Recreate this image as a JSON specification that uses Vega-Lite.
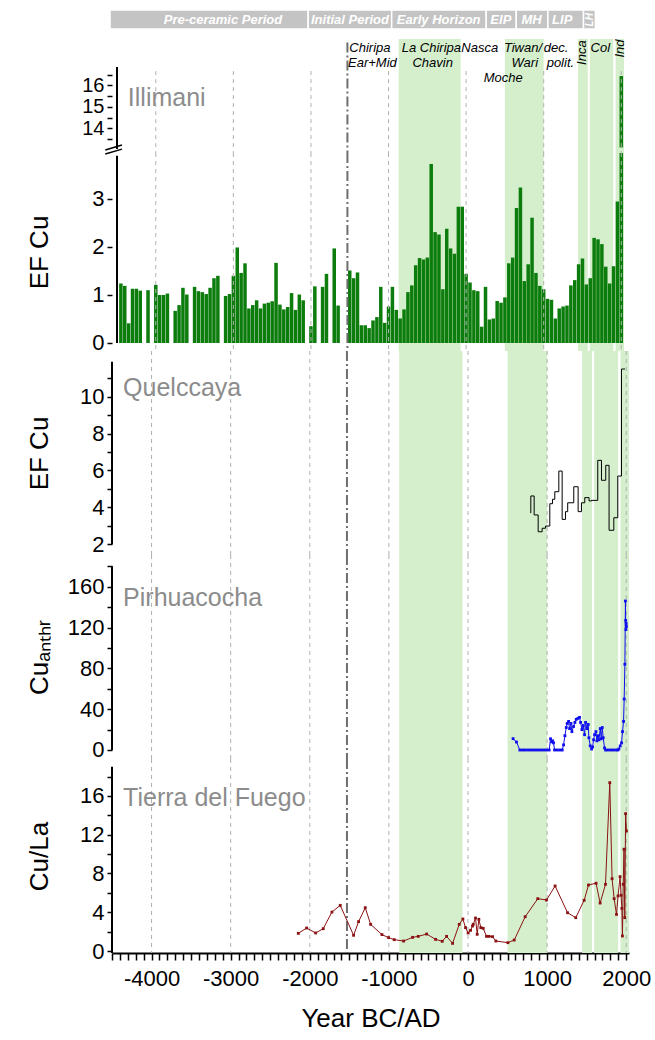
{
  "$schema": "https://vega.github.io/schema/vega-lite/v6.json",
  "background": "white",
  "padding": {"left": 26, "top": 9, "right": 10, "bottom": 5},
  "config": {
    "font": "Liberation Sans",
    "view": {"stroke": null},
    "axis": {"labelFont": "Liberation Sans", "labelFontSize": 22, "labelColor": "#000", "titleFont": "Liberation Sans", "titleFontSize": 26, "titleFontWeight": "normal", "titleColor": "#000", "tickColor": "#000", "tickWidth": 1.5, "tickSize": 5, "tickCount": 200, "domainColor": "#000", "domainWidth": 2, "grid": false, "labelFlush": false, "labelOverlap": false, "labelPadding": 3}
  },
  "datasets": {
    "bands": [{"year": -870, "year_end": -70}, {"year": 500, "year_end": 1000}, {"year": 1442, "year_end": 1568}, {"year": 1594, "year_end": 1897}, {"year": 1927, "year_end": 2035}],
    "grid": [{"year": -4000}, {"year": -3000}, {"year": -2000}, {"year": -1000}, {"year": 0}, {"year": 1000}, {"year": 2000}],
    "periods": [
      {"period": "Pre-ceramic Period", "year": -4525, "year_end": -2020, "mid": -3097},
      {"period": "Initial Period", "year": -2020, "year_end": -965, "mid": -1492},
      {"period": "Early Horizon", "year": -965, "year_end": 230, "mid": -371},
      {"period": "EIP", "year": 230, "year_end": 610, "mid": 415},
      {"period": "MH", "year": 610, "year_end": 1010, "mid": 803},
      {"period": "LIP", "year": 1010, "year_end": 1460, "mid": 1191},
      {"period": "LH", "year": 1460, "year_end": 1610, "mid": 1536}
    ],
    "cultures": [
      {"label": "Chiripa", "year": -1240, "value": 17.76},
      {"label": "Ear+Mid", "year": -1208, "value": 17.06},
      {"label": "La Chiripa", "year": -448, "value": 17.76},
      {"label": "Chavin", "year": -431, "value": 17.06},
      {"label": "Nasca", "year": 175, "value": 17.76},
      {"label": "Tiwan/", "year": 733, "value": 17.76},
      {"label": "Wari", "year": 756, "value": 17.06},
      {"label": "Moche", "year": 478, "value": 16.36},
      {"label": "dec.", "year": 1160, "value": 17.76},
      {"label": "polit.", "year": 1215, "value": 17.06},
      {"label": "Col", "year": 1729, "value": 17.76},
      {"label": "Inca", "year": 1498, "value": 17.53},
      {"label": "Ind", "year": 1981, "value": 17.72}
    ],
    "illimani": [
      {"year": -4450, "value": 1.24}, {"year": -4400, "value": 1.19}, {"year": -4350, "value": 0.41}, {"year": -4300, "value": 1.13}, {"year": -4250, "value": 1.13}, {"year": -4200, "value": 1.09}, {"year": -4100, "value": 1.10}, {"year": -4000, "value": 1.21}, {"year": -3950, "value": 1.00}, {"year": -3900, "value": 1.00}, {"year": -3850, "value": 1.03}, {"year": -3750, "value": 0.67}, {"year": -3700, "value": 0.79}, {"year": -3650, "value": 1.15}, {"year": -3600, "value": 1.01}, {"year": -3500, "value": 1.17}, {"year": -3450, "value": 1.08}, {"year": -3400, "value": 1.06}, {"year": -3350, "value": 1.02}, {"year": -3300, "value": 1.15}, {"year": -3250, "value": 1.35}, {"year": -3200, "value": 1.40}, {"year": -3100, "value": 0.98}, {"year": -3050, "value": 1.02}, {"year": -3000, "value": 1.40}, {"year": -2950, "value": 1.99}, {"year": -2900, "value": 1.46}, {"year": -2850, "value": 1.66}, {"year": -2800, "value": 0.72}, {"year": -2750, "value": 0.79}, {"year": -2700, "value": 0.89}, {"year": -2650, "value": 0.72}, {"year": -2600, "value": 0.82}, {"year": -2550, "value": 0.84}, {"year": -2500, "value": 0.87}, {"year": -2450, "value": 1.67}, {"year": -2400, "value": 0.80}, {"year": -2350, "value": 0.70}, {"year": -2300, "value": 0.75}, {"year": -2250, "value": 1.04}, {"year": -2200, "value": 0.69}, {"year": -2150, "value": 1.01}, {"year": -2100, "value": 0.89}, {"year": -2000, "value": 0.35}, {"year": -1950, "value": 1.18}, {"year": -1850, "value": 1.17}, {"year": -1800, "value": 1.44}, {"year": -1700, "value": 1.97}, {"year": -1650, "value": 0.78},
      {"year": -1500, "value": 1.51}, {"year": -1450, "value": 1.35}, {"year": -1400, "value": 1.47}, {"year": -1350, "value": 0.37}, {"year": -1300, "value": 0.37}, {"year": -1250, "value": 0.31}, {"year": -1200, "value": 0.47}, {"year": -1150, "value": 0.54}, {"year": -1100, "value": 1.17}, {"year": -1050, "value": 0.42}, {"year": -1000, "value": 0.76}, {"year": -950, "value": 1.17}, {"year": -900, "value": 0.69}, {"year": -850, "value": 0.51}, {"year": -800, "value": 0.70}, {"year": -750, "value": 1.06}, {"year": -700, "value": 1.20}, {"year": -650, "value": 1.62}, {"year": -600, "value": 1.77}, {"year": -550, "value": 1.74}, {"year": -500, "value": 1.78}, {"year": -450, "value": 3.73}, {"year": -400, "value": 2.31}, {"year": -350, "value": 2.26}, {"year": -300, "value": 1.12}, {"year": -250, "value": 2.38}, {"year": -200, "value": 1.97}, {"year": -150, "value": 1.86}, {"year": -100, "value": 2.84}, {"year": -50, "value": 2.84}, {"year": 0, "value": 1.44}, {"year": 50, "value": 1.26}, {"year": 100, "value": 1.10}, {"year": 150, "value": 1.08}, {"year": 200, "value": 0.34}, {"year": 250, "value": 1.17}, {"year": 300, "value": 0.49}, {"year": 350, "value": 0.51}, {"year": 400, "value": 0.875}, {"year": 450, "value": 0.84}, {"year": 500, "value": 0.95}, {"year": 550, "value": 1.66}, {"year": 600, "value": 1.78}, {"year": 650, "value": 2.81}, {"year": 700, "value": 3.24}, {"year": 750, "value": 1.29}, {"year": 800, "value": 1.64}, {"year": 850, "value": 2.61}, {"year": 900, "value": 1.46}, {"year": 950, "value": 1.19}, {"year": 1000, "value": 1.12}, {"year": 1050, "value": 0.92}, {"year": 1100, "value": 0.90}, {"year": 1150, "value": 0.51}, {"year": 1200, "value": 0.72}, {"year": 1250, "value": 0.76}, {"year": 1300, "value": 0.78}, {"year": 1350, "value": 1.20}, {"year": 1400, "value": 1.31}, {"year": 1450, "value": 1.64}, {"year": 1500, "value": 1.76}, {"year": 1550, "value": 1.22}, {"year": 1600, "value": 1.35}, {"year": 1650, "value": 2.19}, {"year": 1700, "value": 2.16}, {"year": 1750, "value": 2.06}, {"year": 1800, "value": 1.59}, {"year": 1850, "value": 1.24}, {"year": 1900, "value": 1.60}, {"year": 1950, "value": 2.95}, {"year": 2000, "value": 16.44}
    ],
    "quelccaya": [
      {"year": 790, "value": 3.7}, {"year": 794, "value": 4.62}, {"year": 836, "value": 3.59}, {"year": 887, "value": 2.68}, {"year": 937, "value": 2.87}, {"year": 980, "value": 2.99}, {"year": 1034, "value": 4.20}, {"year": 1068, "value": 4.44}, {"year": 1097, "value": 4.85}, {"year": 1148, "value": 5.97}, {"year": 1190, "value": 3.35}, {"year": 1232, "value": 3.77}, {"year": 1260, "value": 4.25}, {"year": 1337, "value": 5.12}, {"year": 1392, "value": 3.77}, {"year": 1434, "value": 4.25}, {"year": 1476, "value": 4.53}, {"year": 1530, "value": 4.35}, {"year": 1561, "value": 4.38}, {"year": 1640, "value": 6.55}, {"year": 1687, "value": 5.47}, {"year": 1741, "value": 6.28}, {"year": 1783, "value": 2.76}, {"year": 1843, "value": 3.44}, {"year": 1893, "value": 5.70}, {"year": 1940, "value": 11.5}, {"year": 1985, "value": 11.5}
    ],
    "pirhua": [
      {"year": 570, "value": 11.1}, {"year": 613, "value": 7.8}, {"year": 655, "value": 0}, {"year": 689, "value": 0}, {"year": 722, "value": 0}, {"year": 756, "value": 0}, {"year": 790, "value": 0}, {"year": 824, "value": 0}, {"year": 857, "value": 0}, {"year": 891, "value": 0}, {"year": 925, "value": 0}, {"year": 958, "value": 0}, {"year": 992, "value": 0}, {"year": 1026, "value": 0}, {"year": 1043, "value": 11}, {"year": 1056, "value": 8}, {"year": 1068, "value": 9}, {"year": 1081, "value": 7}, {"year": 1094, "value": 0}, {"year": 1128, "value": 0}, {"year": 1161, "value": 0}, {"year": 1191, "value": 0}, {"year": 1208, "value": 5}, {"year": 1225, "value": 14}, {"year": 1242, "value": 22}, {"year": 1254, "value": 26}, {"year": 1271, "value": 28}, {"year": 1284, "value": 21}, {"year": 1301, "value": 26}, {"year": 1313, "value": 18}, {"year": 1334, "value": 23}, {"year": 1351, "value": 27}, {"year": 1368, "value": 30}, {"year": 1389, "value": 31}, {"year": 1410, "value": 32}, {"year": 1423, "value": 27}, {"year": 1440, "value": 20}, {"year": 1457, "value": 24}, {"year": 1473, "value": 15}, {"year": 1486, "value": 27}, {"year": 1503, "value": 21}, {"year": 1520, "value": 25}, {"year": 1528, "value": 12}, {"year": 1545, "value": 4}, {"year": 1562, "value": 1}, {"year": 1575, "value": 3}, {"year": 1587, "value": 10}, {"year": 1600, "value": 15}, {"year": 1617, "value": 18}, {"year": 1629, "value": 9}, {"year": 1642, "value": 14}, {"year": 1655, "value": 10}, {"year": 1672, "value": 21}, {"year": 1684, "value": 11}, {"year": 1697, "value": 22}, {"year": 1709, "value": 12}, {"year": 1726, "value": 2}, {"year": 1739, "value": 0}, {"year": 1768, "value": 0}, {"year": 1802, "value": 0}, {"year": 1836, "value": 0}, {"year": 1869, "value": 0}, {"year": 1894, "value": 0}, {"year": 1907, "value": 1}, {"year": 1924, "value": 4}, {"year": 1941, "value": 7}, {"year": 1953, "value": 18}, {"year": 1966, "value": 28}, {"year": 1974, "value": 50}, {"year": 1983, "value": 84}, {"year": 1990, "value": 146}, {"year": 1993, "value": 127}, {"year": 1996, "value": 118}, {"year": 1999, "value": 124}, {"year": 2002, "value": 121}
    ],
    "tdf": [
      {"year": -2145, "value": 1.82}, {"year": -2040, "value": 2.37}, {"year": -1926, "value": 1.86}, {"year": -1830, "value": 2.30}, {"year": -1720, "value": 4.02}, {"year": -1615, "value": 4.71}, {"year": -1446, "value": 1.62}, {"year": -1383, "value": 3.03}, {"year": -1299, "value": 4.47}, {"year": -1231, "value": 2.75}, {"year": -1088, "value": 1.69}, {"year": -1004, "value": 1.38}, {"year": -933, "value": 1.17}, {"year": -814, "value": 1.03}, {"year": -700, "value": 1.41}, {"year": -629, "value": 1.51}, {"year": -523, "value": 1.75}, {"year": -410, "value": 1.20}, {"year": -326, "value": 1.00}, {"year": -271, "value": 1.51}, {"year": -195, "value": 0.79}, {"year": -111, "value": 2.75}, {"year": -65, "value": 3.30}, {"year": -31, "value": 2.41}, {"year": 2, "value": 1.86}, {"year": 32, "value": 2.13}, {"year": 57, "value": 2.58}, {"year": 66, "value": 2.75}, {"year": 95, "value": 3.40}, {"year": 116, "value": 1.72}, {"year": 137, "value": 3.27}, {"year": 162, "value": 2.41}, {"year": 192, "value": 2.34}, {"year": 234, "value": 1.51}, {"year": 267, "value": 1.51}, {"year": 310, "value": 1.48}, {"year": 352, "value": 1.03}, {"year": 504, "value": 0.86}, {"year": 584, "value": 1.13}, {"year": 723, "value": 3.54}, {"year": 882, "value": 5.40}, {"year": 992, "value": 5.26}, {"year": 1101, "value": 6.71}, {"year": 1258, "value": 3.95}, {"year": 1362, "value": 3.44}, {"year": 1468, "value": 5.23}, {"year": 1523, "value": 6.81}, {"year": 1619, "value": 6.99}, {"year": 1670, "value": 4.95}, {"year": 1738, "value": 6.88}, {"year": 1792, "value": 17.37}, {"year": 1821, "value": 7.46}, {"year": 1847, "value": 5.40}, {"year": 1877, "value": 3.78}, {"year": 1897, "value": 5.68}, {"year": 1922, "value": 7.67}, {"year": 1935, "value": 5.75}, {"year": 1945, "value": 4.4}, {"year": 1952, "value": 1.55}, {"year": 1962, "value": 6.88}, {"year": 1972, "value": 10.5}, {"year": 1982, "value": 3.44}, {"year": 1992, "value": 14.17}, {"year": 2003, "value": 12.38}
    ]
  },
  "spacing": 0,
  "bounds": "flush",
  "vconcat": [
    {
      "width": 517, "height": 29,
      "layer": [
        {"data": {"name": "periods"}, "mark": {"type": "rect", "fill": "#c4c4c4", "stroke": "white", "strokeWidth": 1.5},
         "encoding": {"x": {"field": "year", "type": "quantitative", "scale": {"domain": [-4500, 2035], "nice": false, "zero": false}, "axis": null}, "x2": {"field": "year_end"},
                      "y": {"datum": 0.345, "scale": {"domain": [0, 1], "nice": false, "zero": false}, "axis": null}, "y2": {"datum": 1}}},
        {"data": {"name": "periods"}, "transform": [{"filter": "datum.period !== 'LH'"}], "mark": {"type": "text", "color": "white", "fontSize": 13, "fontWeight": "bold", "fontStyle": "italic", "font": "Liberation Sans", "baseline": "middle", "align": "center"},
         "encoding": {"x": {"field": "mid", "type": "quantitative", "scale": {"domain": [-4500, 2035], "nice": false, "zero": false}, "axis": null}, "y": {"datum": 0.665, "scale": {"domain": [0, 1], "nice": false, "zero": false}, "axis": null}, "text": {"field": "period"}}},
        {"data": {"name": "periods"}, "transform": [{"filter": "datum.period === 'LH'"}], "mark": {"type": "text", "color": "white", "fontSize": 10, "fontWeight": "bold", "fontStyle": "italic", "font": "Liberation Sans", "baseline": "middle", "align": "center", "angle": 270},
         "encoding": {"x": {"field": "mid", "type": "quantitative", "scale": {"domain": [-4500, 2035], "nice": false, "zero": false}, "axis": null}, "y": {"datum": 0.665, "scale": {"domain": [0, 1], "nice": false, "zero": false}, "axis": null}, "text": {"field": "period"}}}
      ]
    },
    {
      "width": 517, "height": 114,
      "layer": [
        {"data": {"name": "bands"}, "mark": {"type": "rect", "fill": "#d5efcd"},
         "encoding": {"x": {"field": "year", "type": "quantitative", "scale": {"domain": [-4500, 2035], "nice": false, "zero": false}, "axis": null}, "x2": {"field": "year_end"}}},
        {"data": {"name": "illimani"}, "transform": [{"filter": "datum.value > 13"}], "mark": {"type": "bar", "width": 3.5, "fill": "#0c7c0c"},
         "encoding": {"x": {"field": "year", "type": "quantitative", "scale": {"domain": [-4500, 2035], "nice": false, "zero": false}, "axis": null},
                      "y": {"field": "value", "type": "quantitative", "scale": {"domain": [12.86, 18.163], "nice": false, "zero": false},
                            "axis": {"values": [13.5, 14, 14.5, 15, 15.5, 16, 16.5], "tickCount": 200, "labelExpr": "datum.value === 14 ? '14' : (datum.value === 15 ? '15' : (datum.value === 16 ? '16' : ''))", "domain": false, "title": null, "labelFontSize": 20}},
                      "y2": {"datum": 13.12}}},
        {"data": {"name": "grid"}, "mark": {"type": "rule", "color": "#b0b0b0", "strokeDash": [4, 4], "strokeWidth": 1},
         "encoding": {"x": {"field": "year", "type": "quantitative", "scale": {"domain": [-4500, 2035], "nice": false, "zero": false}, "axis": null},
                      "y": {"datum": 16.67, "scale": {"domain": [12.86, 18.163], "nice": false, "zero": false}}, "y2": {"datum": 12.86}}},
        {"data": {"values": [{}]}, "mark": {"type": "rule", "color": "#6e6e6e", "strokeDash": [10, 3, 2, 3], "strokeWidth": 2},
         "encoding": {"x": {"datum": -1530, "scale": {"domain": [-4500, 2035], "nice": false, "zero": false}, "axis": null},
                      "y": {"datum": 18.0, "scale": {"domain": [12.86, 18.163], "nice": false, "zero": false}}, "y2": {"datum": 12.86}}},
        {"data": {"values": [{}]}, "mark": {"type": "rule", "color": "black", "strokeWidth": 2},
         "encoding": {"x": {"datum": -4500, "scale": {"domain": [-4500, 2035], "nice": false, "zero": false}, "axis": null},
                      "y": {"datum": 13.05, "scale": {"domain": [12.86, 18.163], "nice": false, "zero": false}}, "y2": {"datum": 16.86}}},
        {"data": {"values": [{}]}, "mark": {"type": "rule", "color": "black", "strokeWidth": 1.5},
         "encoding": {"x": {"datum": -4651, "scale": {"domain": [-4500, 2035], "nice": false, "zero": false}, "axis": null}, "x2": {"datum": -4436},
                      "y": {"datum": 13.0, "scale": {"domain": [12.86, 18.163], "nice": false, "zero": false}}, "y2": {"datum": 13.23}}},
        {"data": {"values": [{}]}, "mark": {"type": "rule", "color": "black", "strokeWidth": 1.5},
         "encoding": {"x": {"datum": -4651, "scale": {"domain": [-4500, 2035], "nice": false, "zero": false}, "axis": null}, "x2": {"datum": -4436},
                      "y": {"datum": 12.81, "scale": {"domain": [12.86, 18.163], "nice": false, "zero": false}}, "y2": {"datum": 13.04}}},
        {"data": {"values": [{}]}, "mark": {"type": "text", "text": "Illimani", "color": "#8c8c8c", "fontSize": 25, "align": "left", "baseline": "middle"},
         "encoding": {"x": {"datum": -4360, "scale": {"domain": [-4500, 2035], "nice": false, "zero": false}, "axis": null},
                      "y": {"datum": 15.43, "scale": {"domain": [12.86, 18.163], "nice": false, "zero": false}}}},
        {"data": {"name": "cultures"}, "transform": [{"filter": "datum.label !== 'Inca' && datum.label !== 'Ind'"}], "mark": {"type": "text", "color": "black", "fontSize": 13, "fontStyle": "italic", "align": "center", "baseline": "middle"},
         "encoding": {"x": {"field": "year", "type": "quantitative", "scale": {"domain": [-4500, 2035], "nice": false, "zero": false}, "axis": null},
                      "y": {"field": "value", "type": "quantitative", "scale": {"domain": [12.86, 18.163], "nice": false, "zero": false}}, "text": {"field": "label"}}},
        {"data": {"name": "cultures"}, "transform": [{"filter": "datum.label === 'Inca' || datum.label === 'Ind'"}], "mark": {"type": "text", "color": "black", "fontSize": 13, "fontStyle": "italic", "align": "center", "baseline": "middle", "angle": 270},
         "encoding": {"x": {"field": "year", "type": "quantitative", "scale": {"domain": [-4500, 2035], "nice": false, "zero": false}, "axis": null},
                      "y": {"field": "value", "type": "quantitative", "scale": {"domain": [12.86, 18.163], "nice": false, "zero": false}}, "text": {"field": "label"}}}
      ]
    },
    {
      "width": 517, "height": 198,
      "layer": [
        {"data": {"name": "bands"}, "mark": {"type": "rect", "fill": "#d5efcd"},
         "encoding": {"x": {"field": "year", "type": "quantitative", "scale": {"domain": [-4500, 2035], "nice": false, "zero": false}, "axis": null}, "x2": {"field": "year_end"}}},
        {"data": {"name": "illimani"}, "mark": {"type": "bar", "width": 3.5, "fill": "#0c7c0c", "clip": true},
         "encoding": {"x": {"field": "year", "type": "quantitative", "scale": {"domain": [-4500, 2035], "nice": false, "zero": false}, "axis": null},
                      "y": {"field": "value", "type": "quantitative", "scale": {"domain": [-0.1667, 3.958], "nice": false, "zero": false},
                            "axis": {"values": [0, 0.5, 1, 1.5, 2, 2.5, 3, 3.5], "tickCount": 200, "format": "d", "labelExpr": "datum.value % 1 === 0 ? datum.label : ''", "domain": false, "title": "EF Cu", "titleX": -60}},
                      "y2": {"datum": 0}}},
        {"data": {"name": "grid"}, "mark": {"type": "rule", "color": "#b0b0b0", "strokeDash": [4, 4], "strokeWidth": 1},
         "encoding": {"x": {"field": "year", "type": "quantitative", "scale": {"domain": [-4500, 2035], "nice": false, "zero": false}, "axis": null}}},
        {"data": {"values": [{}]}, "mark": {"type": "rule", "color": "#6e6e6e", "strokeDash": [10, 3, 2, 3], "strokeWidth": 2},
         "encoding": {"x": {"datum": -1530, "scale": {"domain": [-4500, 2035], "nice": false, "zero": false}, "axis": null}}},
        {"data": {"values": [{}]}, "mark": {"type": "rule", "color": "black", "strokeWidth": 2},
         "encoding": {"x": {"datum": -4500, "scale": {"domain": [-4500, 2035], "nice": false, "zero": false}, "axis": null},
                      "y": {"datum": 0, "scale": {"domain": [-0.1667, 3.958], "nice": false, "zero": false}}, "y2": {"datum": 3.9}}}
      ]
    },
    {
      "width": 517, "height": 204,
      "layer": [
        {"data": {"name": "bands"}, "mark": {"type": "rect", "fill": "#d5efcd"},
         "encoding": {"x": {"field": "year", "type": "quantitative", "scale": {"domain": [-4500, 2035], "nice": false, "zero": false}, "axis": null}, "x2": {"field": "year_end"}}},
        {"data": {"name": "grid"}, "mark": {"type": "rule", "color": "#b0b0b0", "strokeDash": [4, 4], "strokeWidth": 1},
         "encoding": {"x": {"field": "year", "type": "quantitative", "scale": {"domain": [-4500, 2035], "nice": false, "zero": false}, "axis": null}}},
        {"data": {"values": [{}]}, "mark": {"type": "rule", "color": "#6e6e6e", "strokeDash": [10, 3, 2, 3], "strokeWidth": 2},
         "encoding": {"x": {"datum": -1530, "scale": {"domain": [-4500, 2035], "nice": false, "zero": false}, "axis": null}}},
        {"data": {"name": "quelccaya"}, "mark": {"type": "line", "interpolate": "step-after", "color": "black", "strokeWidth": 1},
         "encoding": {"x": {"field": "year", "type": "quantitative", "scale": {"domain": [-4500, 2035], "nice": false, "zero": false}, "axis": null},
                      "y": {"field": "value", "type": "quantitative", "scale": {"domain": [1.42, 12.477], "nice": false, "zero": false},
                            "axis": {"values": [2, 3, 4, 5, 6, 7, 8, 9, 10, 11], "tickCount": 200, "format": "d", "labelExpr": "datum.value % 2 === 0 ? datum.label : ''", "domain": false, "title": "EF Cu", "titleX": -60}}}},
        {"data": {"values": [{}]}, "mark": {"type": "rule", "color": "black", "strokeWidth": 2},
         "encoding": {"x": {"datum": -4500, "scale": {"domain": [-4500, 2035], "nice": false, "zero": false}, "axis": null},
                      "y": {"datum": 2, "scale": {"domain": [1.42, 12.477], "nice": false, "zero": false}}, "y2": {"datum": 11.9}}},
        {"data": {"values": [{}]}, "mark": {"type": "text", "text": "Quelccaya", "color": "#8c8c8c", "fontSize": 25, "align": "left", "baseline": "middle"},
         "encoding": {"x": {"datum": -4360, "scale": {"domain": [-4500, 2035], "nice": false, "zero": false}, "axis": null},
                      "y": {"datum": 10.46, "scale": {"domain": [1.42, 12.477], "nice": false, "zero": false}}}}
      ]
    },
    {
      "width": 517, "height": 204,
      "layer": [
        {"data": {"name": "bands"}, "mark": {"type": "rect", "fill": "#d5efcd"},
         "encoding": {"x": {"field": "year", "type": "quantitative", "scale": {"domain": [-4500, 2035], "nice": false, "zero": false}, "axis": null}, "x2": {"field": "year_end"}}},
        {"data": {"name": "grid"}, "mark": {"type": "rule", "color": "#b0b0b0", "strokeDash": [4, 4], "strokeWidth": 1},
         "encoding": {"x": {"field": "year", "type": "quantitative", "scale": {"domain": [-4500, 2035], "nice": false, "zero": false}, "axis": null}}},
        {"data": {"values": [{}]}, "mark": {"type": "rule", "color": "#6e6e6e", "strokeDash": [10, 3, 2, 3], "strokeWidth": 2},
         "encoding": {"x": {"datum": -1530, "scale": {"domain": [-4500, 2035], "nice": false, "zero": false}, "axis": null}}},
        {"data": {"name": "pirhua"}, "mark": {"type": "line", "color": "#1010ee", "strokeWidth": 1, "point": {"filled": true, "shape": "square", "size": 8, "color": "#1010ee"}},
         "encoding": {"x": {"field": "year", "type": "quantitative", "scale": {"domain": [-4500, 2035], "nice": false, "zero": false}, "axis": null},
                      "y": {"field": "value", "type": "quantitative", "scale": {"domain": [-8.82, 191.06], "nice": false, "zero": false},
                            "axis": {"values": [0, 20, 40, 60, 80, 100, 120, 140, 160, 180], "tickCount": 200, "format": "d", "labelExpr": "datum.value % 40 === 0 ? datum.label : ''", "domain": false, "title": "Cuₐₙₜₕᵣ", "titleX": -60}}}},
        {"data": {"values": [{}]}, "mark": {"type": "rule", "color": "black", "strokeWidth": 2},
         "encoding": {"x": {"datum": -4500, "scale": {"domain": [-4500, 2035], "nice": false, "zero": false}, "axis": null},
                      "y": {"datum": 0, "scale": {"domain": [-8.82, 191.06], "nice": false, "zero": false}}, "y2": {"datum": 180}}},
        {"data": {"values": [{}]}, "mark": {"type": "text", "text": "Pirhuacocha", "color": "#8c8c8c", "fontSize": 25, "align": "left", "baseline": "middle"},
         "encoding": {"x": {"datum": -4360, "scale": {"domain": [-4500, 2035], "nice": false, "zero": false}, "axis": null},
                      "y": {"datum": 149.4, "scale": {"domain": [-8.82, 191.06], "nice": false, "zero": false}}}}
      ]
    },
    {
      "width": 517, "height": 194,
      "layer": [
        {"data": {"name": "bands"}, "mark": {"type": "rect", "fill": "#d5efcd"},
         "encoding": {"x": {"field": "year", "type": "quantitative", "scale": {"domain": [-4500, 2035], "nice": false, "zero": false}}, "x2": {"field": "year_end"}}},
        {"data": {"name": "grid"}, "mark": {"type": "rule", "color": "#b0b0b0", "strokeDash": [4, 4], "strokeWidth": 1},
         "encoding": {"x": {"field": "year", "type": "quantitative", "scale": {"domain": [-4500, 2035], "nice": false, "zero": false}}}},
        {"data": {"values": [{}]}, "mark": {"type": "rule", "color": "#6e6e6e", "strokeDash": [10, 3, 2, 3], "strokeWidth": 2},
         "encoding": {"x": {"datum": -1530, "scale": {"domain": [-4500, 2035], "nice": false, "zero": false}}}},
        {"data": {"name": "tdf"}, "mark": {"type": "line", "color": "#8b1212", "strokeWidth": 1, "point": {"filled": true, "shape": "square", "size": 8, "color": "#8b1212"}},
         "encoding": {"x": {"field": "year", "type": "quantitative", "title": "Year BC/AD", "scale": {"domain": [-4500, 2035], "nice": false, "zero": false},
                            "axis": {"values": [-4500, -4400, -4300, -4200, -4100, -4000, -3900, -3800, -3700, -3600, -3500, -3400, -3300, -3200, -3100, -3000, -2900, -2800, -2700, -2600, -2500, -2400, -2300, -2200, -2100, -2000, -1900, -1800, -1700, -1600, -1500, -1400, -1300, -1200, -1100, -1000, -900, -800, -700, -600, -500, -400, -300, -200, -100, 0, 100, 200, 300, 400, 500, 600, 700, 800, 900, 1000, 1100, 1200, 1300, 1400, 1500, 1600, 1700, 1800, 1900, 2000],
                                     "tickCount": 200, "labelExpr": "datum.value % 1000 === 0 ? '' + datum.value : ''", "title": "Year BC/AD", "titlePadding": 16, "labelPadding": 8, "tickSize": 7}},
                      "y": {"field": "value", "type": "quantitative", "title": "Cu/La", "scale": {"domain": [-0.206, 19.81], "nice": false, "zero": false},
                            "axis": {"values": [0, 2, 4, 6, 8, 10, 12, 14, 16, 18], "tickCount": 200, "format": "d", "labelExpr": "datum.value % 4 === 0 ? datum.label : ''", "domain": false, "title": "Cu/La", "titleX": -60}}}},
        {"data": {"values": [{}]}, "mark": {"type": "rule", "color": "black", "strokeWidth": 2},
         "encoding": {"x": {"datum": -4500, "scale": {"domain": [-4500, 2035], "nice": false, "zero": false}},
                      "y": {"datum": -0.206, "scale": {"domain": [-0.206, 19.81], "nice": false, "zero": false}}, "y2": {"datum": 19}}},
        {"data": {"values": [{}]}, "mark": {"type": "text", "text": "Tierra del Fuego", "color": "#8c8c8c", "fontSize": 25, "align": "left", "baseline": "middle"},
         "encoding": {"x": {"datum": -4360, "scale": {"domain": [-4500, 2035], "nice": false, "zero": false}},
                      "y": {"datum": 15.8, "scale": {"domain": [-0.206, 19.81], "nice": false, "zero": false}}}}
      ]
    }
  ]
}
